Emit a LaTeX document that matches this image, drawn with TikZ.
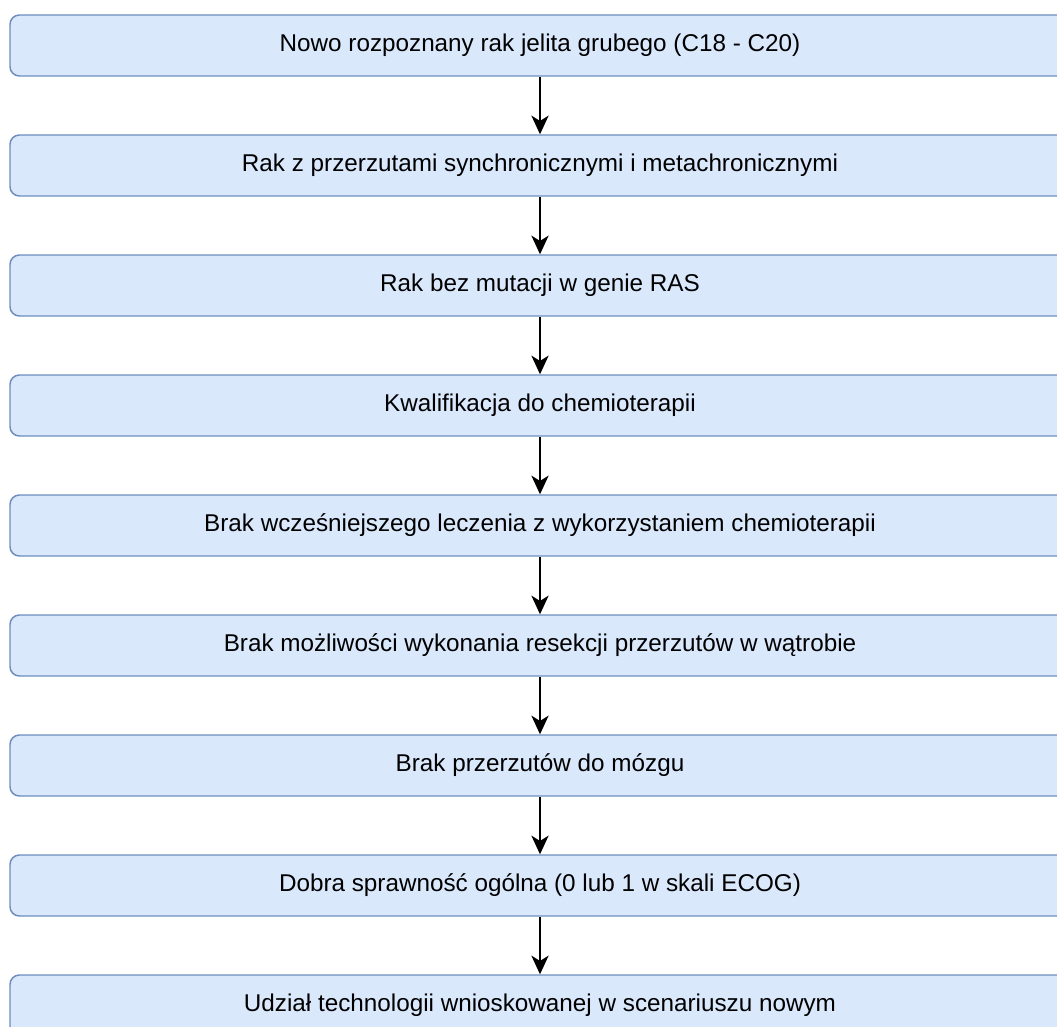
\documentclass[tikz,border=0pt]{standalone}
\usepackage{fontspec}
\setmainfont{Liberation Sans}
\usetikzlibrary{arrows.meta}
\definecolor{boxfill}{HTML}{DAE8FC}
\definecolor{boxline}{HTML}{6C8EBF}
\begin{document}
\begin{tikzpicture}[x=0.75pt,y=0.75pt,
    krok/.style={draw=boxline,fill=boxfill,line width=1.1pt,rounded corners=7pt,
        minimum width=795pt,minimum height=45.75pt,inner sep=0pt,
        font=\fontsize{18.2pt}{21pt}\selectfont},
    strz/.style={draw,line width=1.1pt,-{Stealth[length=14pt,width=13pt,inset=4pt]}}]
        \path[use as bounding box] (0,0) rectangle (1057,-1027);

        \node[krok] (k1) at (540,-45.5) {Nowo rozpoznany rak jelita grubego (C18 - C20)};
        \node[krok] (k2) at (540,-165.5) {Rak z przerzutami synchronicznymi i metachronicznymi};
        \node[krok] (k3) at (540,-285.5) {Rak bez mutacji w genie RAS};
        \node[krok] (k4) at (540,-405.5) {Kwalifikacja do chemioterapii};
        \node[krok] (k5) at (540,-525.5) {Brak wcześniejszego leczenia z wykorzystaniem chemioterapii};
        \node[krok] (k6) at (540,-645.5) {Brak możliwości wykonania resekcji przerzutów w wątrobie};
        \node[krok] (k7) at (540,-765.5) {Brak przerzutów do mózgu};
        \node[krok] (k8) at (540,-885.5) {Dobra sprawność ogólna (0 lub 1 w skali ECOG)};
        \node[krok] (k9) at (540,-1005.5) {Udział technologii wnioskowanej w scenariuszu nowym};

        \path[strz] (k1) -- (k2);
        \path[strz] (k2) -- (k3);
        \path[strz] (k3) -- (k4);
        \path[strz] (k4) -- (k5);
        \path[strz] (k5) -- (k6);
        \path[strz] (k6) -- (k7);
        \path[strz] (k7) -- (k8);
        \path[strz] (k8) -- (k9);
    \end{tikzpicture}
\end{document}
